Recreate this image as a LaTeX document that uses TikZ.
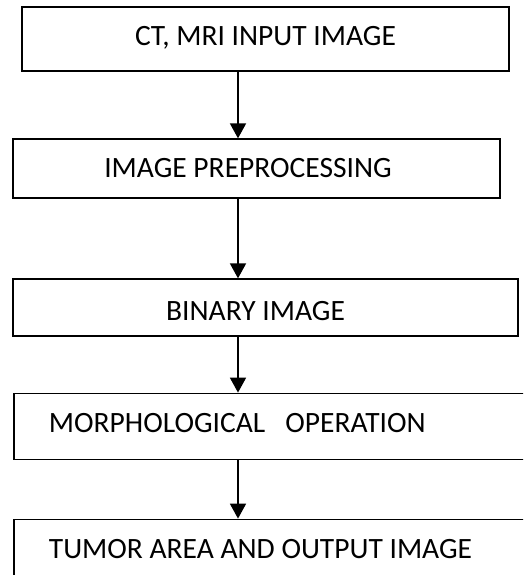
\documentclass[tikz,border=0pt]{standalone}
\usepackage{fontspec}
\setmainfont{Carlito}
\usetikzlibrary{arrows.meta}

\begin{document}
\begin{tikzpicture}[x = 1pt, y = -1pt,
    block/.style = {draw, line width = 1.8pt, inner sep = 0pt, font = \fontsize{29.5}{34}\selectfont, text height = 18.6pt, text depth = 0pt},
    wideblock/.style = {block, anchor = west, text width = 470pt, inner xsep = 35pt, align = flush left, minimum height = 66pt, text depth = 6pt},
    flow/.style = {-{Triangle[width = 16pt, length = 15pt]}, line width = 1.8pt}]
      \useasboundingbox (0,0) rectangle (523,575);
      \clip (0,0) rectangle (523,575);
      \node[block, minimum width = 487pt, minimum height = 63.5pt, text depth = 5pt] (input) at (265.5,39) {CT, MRI INPUT IMAGE};
      \node[block, minimum width = 487pt, minimum height = 58.5pt] (prep) at (256.5,168.5) {IMAGE PREPROCESSING\hspace*{17pt}};
      \node[block, minimum width = 505pt, minimum height = 56.5pt, text height = 25pt] (binary) at (265.5,307.5) {BINARY IMAGE\hspace*{20pt}};
      \node[wideblock] (morph) at (13,426.5) {MORPHOLOGICAL~~~OPERATION};
      \node[wideblock] (tumor) at (13,552.5) {TUMOR AREA AND OUTPUT IMAGE};
      \coordinate (axis) at (238,0);
      \path[flow] (input.south -| axis)  edge (prep.north -| axis)
                  (prep.south -| axis)   edge (binary.north -| axis)
                  (binary.south -| axis) edge (morph.north -| axis)
                  (morph.south -| axis)  edge (tumor.north -| axis);
\end{tikzpicture}
\end{document}
